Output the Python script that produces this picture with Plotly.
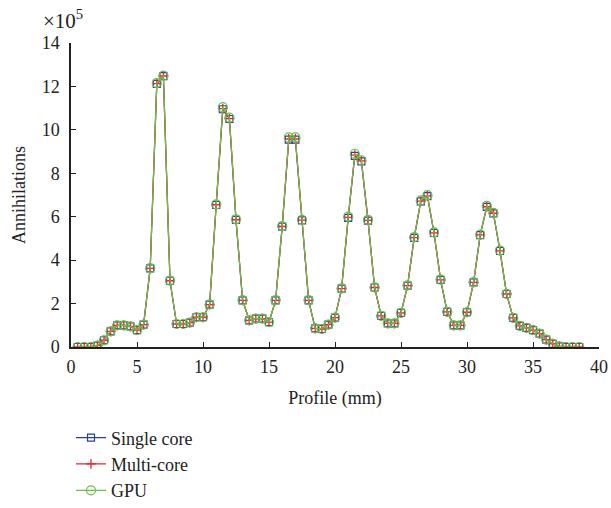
import plotly.graph_objects as go

profile_mm = [0.5, 1.0, 1.5, 2.0, 2.5, 3.0, 3.5, 4.0, 4.5, 5.0, 5.5, 6.0, 6.5, 7.0, 7.5, 8.0,
              8.5, 9.0, 9.5, 10.0, 10.5, 11.0, 11.5, 12.0, 12.5, 13.0, 13.5, 14.0, 14.5, 15.0,
              15.5, 16.0, 16.5, 17.0, 17.5, 18.0, 18.5, 19.0, 19.5, 20.0, 20.5, 21.0, 21.5,
              22.0, 22.5, 23.0, 23.5, 24.0, 24.5, 25.0, 25.5, 26.0, 26.5, 27.0, 27.5, 28.0,
              28.5, 29.0, 29.5, 30.0, 30.5, 31.0, 31.5, 32.0, 32.5, 33.0, 33.5, 34.0, 34.5,
              35.0, 35.5, 36.0, 36.5, 37.0, 37.5, 38.0, 38.5]

single_core = [0, 0, 0, 0.06, 0.31, 0.72, 1.0, 1.0, 0.95, 0.78, 1.03, 3.62, 12.12, 12.47, 3.05, 1.06,
               1.06, 1.12, 1.37, 1.37, 1.95, 6.54, 10.95, 10.5, 5.85, 2.15, 1.23, 1.31, 1.31, 1.15,
               2.15, 5.54, 9.55, 9.55, 5.83, 2.15, 0.86, 0.83, 1.03, 1.35, 2.69, 5.95, 8.8,
               8.55, 5.82, 2.74, 1.43, 1.09, 1.09, 1.57, 2.83, 5.03, 6.71, 6.95, 5.25, 3.09,
               1.62, 1.0, 1.0, 1.6, 2.98, 5.15, 6.45, 6.15, 4.42, 2.44, 1.34, 0.97, 0.88,
               0.78, 0.62, 0.34, 0.15, 0.03, 0, 0, 0]

multi_core = [0, 0, 0, 0.06, 0.31, 0.72, 1.0, 1.0, 0.95, 0.78, 1.03, 3.62, 12.13, 12.48, 3.05, 1.06,
              1.06, 1.12, 1.37, 1.37, 1.95, 6.55, 10.98, 10.52, 5.86, 2.15, 1.23, 1.31, 1.31, 1.15,
              2.15, 5.55, 9.58, 9.58, 5.84, 2.15, 0.86, 0.83, 1.03, 1.35, 2.69, 5.97, 8.84,
              8.57, 5.83, 2.74, 1.43, 1.09, 1.09, 1.57, 2.83, 5.04, 6.72, 6.96, 5.26, 3.09,
              1.62, 1.0, 1.0, 1.6, 2.98, 5.16, 6.46, 6.16, 4.43, 2.44, 1.34, 0.97, 0.88,
              0.78, 0.62, 0.34, 0.15, 0.03, 0, 0, 0]

gpu = [0, 0, 0, 0.06, 0.31, 0.72, 1.0, 1.0, 0.95, 0.78, 1.03, 3.63, 12.15, 12.5, 3.06, 1.06,
       1.06, 1.12, 1.37, 1.37, 1.96, 6.57, 11.05, 10.56, 5.88, 2.16, 1.23, 1.31, 1.31, 1.15,
       2.16, 5.57, 9.65, 9.65, 5.86, 2.16, 0.86, 0.83, 1.03, 1.35, 2.7, 6.0, 8.9,
       8.6, 5.85, 2.75, 1.43, 1.09, 1.09, 1.57, 2.84, 5.06, 6.75, 6.99, 5.28, 3.1,
       1.62, 1.0, 1.0, 1.6, 2.99, 5.18, 6.5, 6.18, 4.45, 2.45, 1.34, 0.97, 0.88,
       0.78, 0.62, 0.34, 0.15, 0.03, 0, 0, 0]

x_ticks = [0, 5, 10, 15, 20, 25, 30, 35, 40]
y_ticks = [0, 2, 4, 6, 8, 10, 12, 14]

FONT = "Liberation Serif"
INK = "#222222"

fig = go.Figure()
fig.add_trace(go.Scatter(
    x=profile_mm, y=single_core, name="Single core", mode="lines+markers",
    line=dict(color="#2b3f99", width=1.2),
    marker=dict(symbol="square-open", size=7, color="#2b3f99", line=dict(width=1.2))))
fig.add_trace(go.Scatter(
    x=profile_mm, y=multi_core, name="Multi-core", mode="lines+markers",
    line=dict(color="#e8252d", width=1.2),
    marker=dict(symbol="cross-thin-open", size=7, color="#e8252d", line=dict(width=1.3, color="#e8252d"))))
fig.add_trace(go.Scatter(
    x=profile_mm, y=gpu, name="GPU", mode="lines+markers",
    line=dict(color="#6cc04a", width=1.2),
    marker=dict(symbol="circle-open", size=9, color="#6cc04a", line=dict(width=1.2))))

fig.update_layout(
    width=611, height=508,
    margin=dict(l=71, r=12, t=43, b=161, autoexpand=False),
    paper_bgcolor="white", plot_bgcolor="white",
    font=dict(family=FONT, size=18, color=INK),
    showlegend=True,
    legend=dict(x=0.0, y=-0.238, xanchor="left", yanchor="top",
                font=dict(family=FONT, size=18, color=INK),
                bgcolor="rgba(0,0,0,0)", tracegroupgap=0, itemwidth=30),
    xaxis=dict(range=[0, 40], tickvals=x_ticks, ticks="inside", ticklen=5,
               tickcolor=INK, showline=True, linecolor=INK, linewidth=1.5,
               showgrid=False, zeroline=False, mirror=False, automargin=False,
               ticklabelstandoff=3, ticklabeloverflow="allow",
               title=dict(text="Profile (mm)", standoff=15, font=dict(size=18)),
               tickfont=dict(family=FONT, size=18)),
    yaxis=dict(range=[0, 14], tickvals=y_ticks, ticks="inside", ticklen=5,
               tickcolor=INK, showline=True, linecolor=INK, linewidth=1.5,
               showgrid=False, zeroline=False, mirror=False, automargin=False,
               ticklabelstandoff=6, ticklabeloverflow="allow",
               title=dict(text="Annihilations", standoff=11, font=dict(size=18)),
               tickfont=dict(family=FONT, size=18)),
    annotations=[dict(text="×10<sup>5</sup>", xref="paper", yref="paper",
                      x=-0.056, y=1.025, xanchor="left", yanchor="bottom",
                      showarrow=False, font=dict(family=FONT, size=21, color=INK))],
)

fig.write_html("out.html", config={"displayModeBar": False},
               post_script="document.body.style.margin='0';document.body.style.overflow='hidden';")
